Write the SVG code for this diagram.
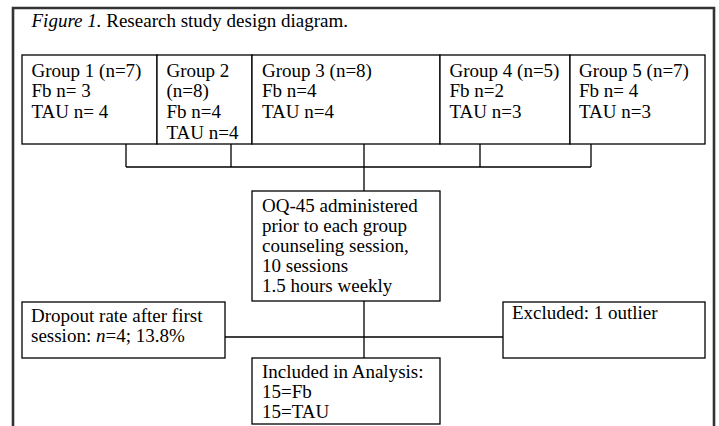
<svg xmlns="http://www.w3.org/2000/svg" width="719" height="426" viewBox="0 0 719 426">
<style>
.box{fill:#fff;stroke:#000;stroke-width:1.3}
.ln{fill:none;stroke:#000;stroke-width:1.3}
text{font-family:"Liberation Serif","Times New Roman",serif;font-size:19px;fill:#000}
</style>
<rect x="0" y="0" width="719" height="426" fill="#fff"/>
<path d="M13,440 V8 H714 V440" fill="none" stroke="#333" stroke-width="2.6"/>
<text x="31.5" y="27"><tspan font-style="italic">Figure 1.</tspan> Research study design diagram.</text>
<g id="connectors">
<path class="ln" d="M126,144 V167 M231,144 V167 M364,144 V191 M480,144 V167 M591,144 V167 M126,167 H591"/>
<path class="ln" d="M364,301 V358 M225,337 H503"/>
</g>
<g id="group1">
<rect class="box" x="22" y="55" width="135" height="89"/>
<text x="31.5" y="76.5">Group 1 (n=7)</text>
<text x="31.5" y="97.2">Fb n= 3</text>
<text x="31.5" y="117.9">TAU n= 4</text>
</g>
<g id="group2">
<rect class="box" x="157" y="55" width="95" height="89"/>
<text x="166.5" y="76.5">Group 2</text>
<text x="166.5" y="97.2">(n=8)</text>
<text x="166.5" y="117.9">Fb n=4</text>
<text x="166.5" y="138.6">TAU n=4</text>
</g>
<g id="group3">
<rect class="box" x="252" y="55" width="188" height="89"/>
<text x="262" y="76.5">Group 3 (n=8)</text>
<text x="262" y="97.2">Fb n=4</text>
<text x="262" y="117.9">TAU n=4</text>
</g>
<g id="group4">
<rect class="box" x="440" y="55" width="130" height="89"/>
<text x="449.5" y="76.5">Group 4 (n=5)</text>
<text x="449.5" y="97.2">Fb n=2</text>
<text x="449.5" y="117.9">TAU n=3</text>
</g>
<g id="group5">
<rect class="box" x="570" y="55" width="135" height="89"/>
<text x="579" y="76.5">Group 5 (n=7)</text>
<text x="579" y="97.2">Fb n= 4</text>
<text x="579" y="117.9">TAU n=3</text>
</g>
<g id="oq45">
<rect class="box" x="252" y="191" width="188" height="110"/>
<text x="262" y="211.5">OQ-45 administered</text>
<text x="262" y="231.5">prior to each group</text>
<text x="262" y="251.5">counseling session,</text>
<text x="262" y="271.5">10 sessions</text>
<text x="262" y="291.5">1.5 hours weekly</text>
</g>
<g id="dropout">
<rect class="box" x="22" y="302" width="203" height="56"/>
<text x="31" y="321.7">Dropout rate after first</text>
<text x="31" y="342.3">session: <tspan font-style="italic">n</tspan>=4; 13.8%</text>
</g>
<g id="excluded">
<rect class="box" x="503" y="302" width="202" height="56"/>
<text x="512" y="319">Excluded: 1 outlier</text>
</g>
<g id="included">
<rect class="box" x="252" y="358" width="188" height="66"/>
<text x="262" y="378.3">Included in Analysis:</text>
<text x="262" y="398.3">15=Fb</text>
<text x="262" y="418.3">15=TAU</text>
</g>
</svg>
